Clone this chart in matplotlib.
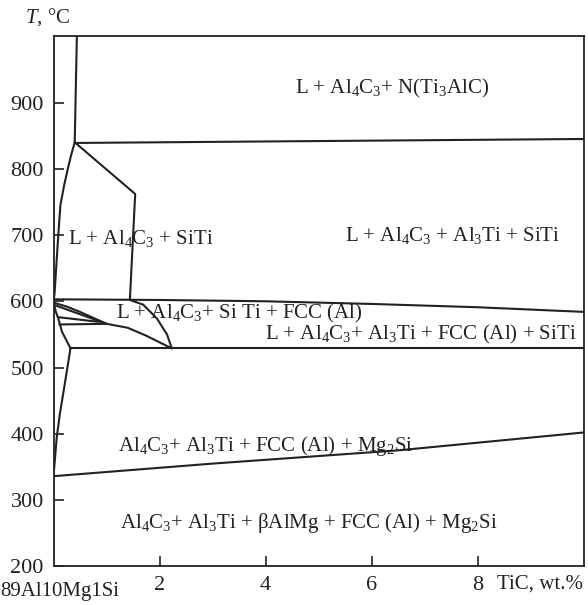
"""Phase diagram of 89Al10Mg1Si - TiC section."""
import matplotlib
matplotlib.use("Agg")
import matplotlib.pyplot as plt

plt.rcParams["font.family"] = ["Liberation Serif", "DejaVu Serif"]
plt.rcParams["mathtext.fontset"] = "custom"
plt.rcParams["mathtext.rm"] = "Liberation Serif"
plt.rcParams["mathtext.it"] = "Liberation Serif:italic"

# boundary lines, (TiC wt.%, T degC)
liq_top_x = [0.44, 0.40]
liq_top_t = [1000, 840]

line_845_x = [0.40, 10.0]
line_845_t = [839, 845]

siti_edge_x = [0.40, 1.54, 1.44]
siti_edge_t = [840, 762, 602]

left_upper_x = [0.40, 0.33, 0.27, 0.20, 0.13, 0.09, 0.05, 0.02, 0.0]
left_upper_t = [840, 820, 800, 775, 745, 700, 650, 612, 600]

line_600_x = [0.0, 2.0, 4.0, 6.0, 8.0, 10.0]
line_600_t = [603, 602, 600, 596, 591, 584]

line_530_x = [0.32, 10.0]
line_530_t = [529, 529]

left_mid_x = [0.0, 0.04, 0.09, 0.16, 0.32]
left_mid_t = [600, 585, 574, 554, 529]

arc_right_x = [1.44, 1.69, 1.95, 2.14, 2.23]
arc_right_t = [602, 595, 574, 550, 529]

arc_a_x = [0.0, 0.25, 0.50, 0.75, 1.0]
arc_a_t = [598, 592, 584, 575, 566]

line_b_x = [0.03, 1.0]
line_b_t = [594, 566]

line_c_x = [0.09, 0.85]
line_c_t = [576, 569]

line_d_x = [0.11, 1.0, 1.4, 1.75, 2.0, 2.23]
line_d_t = [565, 566, 560, 548, 538, 529]

left_low_x = [0.32, 0.25, 0.20, 0.12, 0.06, 0.0]
left_low_t = [529, 494, 469, 430, 394, 336]

line_bot_x = [0.0, 3.0, 6.5, 10.0]
line_bot_t = [336, 355, 375, 402]

boundaries = [
    (liq_top_x, liq_top_t), (line_845_x, line_845_t),
    (siti_edge_x, siti_edge_t), (left_upper_x, left_upper_t),
    (line_600_x, line_600_t), (line_530_x, line_530_t),
    (left_mid_x, left_mid_t), (arc_right_x, arc_right_t),
    (arc_a_x, arc_a_t), (line_b_x, line_b_t), (line_c_x, line_c_t),
    (line_d_x, line_d_t), (left_low_x, left_low_t), (line_bot_x, line_bot_t),
]

# phase field labels: text, x, T, alignment
fields = [
    ("L + Al$_4$C$_3$+ N(Ti$_3$AlC)", 6.39, 921, "center"),
    ("L + Al$_4$C$_3$ + SiTi", 0.27, 695, "left"),
    ("L + Al$_4$C$_3$ + Al$_3$Ti + SiTi", 7.52, 700, "center"),
    ("L + Al$_4$C$_3$+ Si Ti + FCC (Al)", 3.50, 582, "center"),
    ("L + Al$_4$C$_3$+ Al$_3$Ti + FCC (Al) + SiTi", 6.92, 550, "center"),
    ("Al$_4$C$_3$+ Al$_3$Ti + FCC (Al) + Mg$_2$Si", 3.99, 382, "center"),
    ("Al$_4$C$_3$+ Al$_3$Ti + βAlMg + FCC (Al) + Mg$_2$Si", 4.82, 265, "center"),
]

xticks = [2, 4, 6, 8]
yticks = [200, 300, 400, 500, 600, 700, 800, 900]

fig = plt.figure(figsize=(5.88, 6.05), dpi=100)
ax = fig.add_axes([0.091, 0.064, 0.902, 0.876])
ax.set_xlim(0, 10)
ax.set_ylim(200, 1000)

for xs, ts in boundaries:
    ax.plot(xs, ts, color="#222222", lw=1.5, solid_capstyle="round")

for label, x, t, ha in fields:
    ax.text(x, t, label, ha=ha, va="center", fontsize=15, color="#222222")

ax.set_xticks(xticks)
ax.set_yticks(yticks)
ax.tick_params(direction="in", length=7, width=1.2, labelsize=16,
               pad=7, colors="#222222")
for s in ax.spines.values():
    s.set_linewidth(1.3)
    s.set_color("#222222")

fig.text(0.042, 0.972, "$T$, °C", fontsize=15, ha="left", va="center",
         color="#222222")
fig.text(0.0, 0.022, "89Al10Mg1Si", fontsize=15, ha="left", va="center",
         color="#222222")
fig.text(0.845, 0.035, "TiC, wt.%", fontsize=15, ha="left", va="center",
         color="#222222")

fig.savefig("out.png", dpi=100, facecolor="white")
